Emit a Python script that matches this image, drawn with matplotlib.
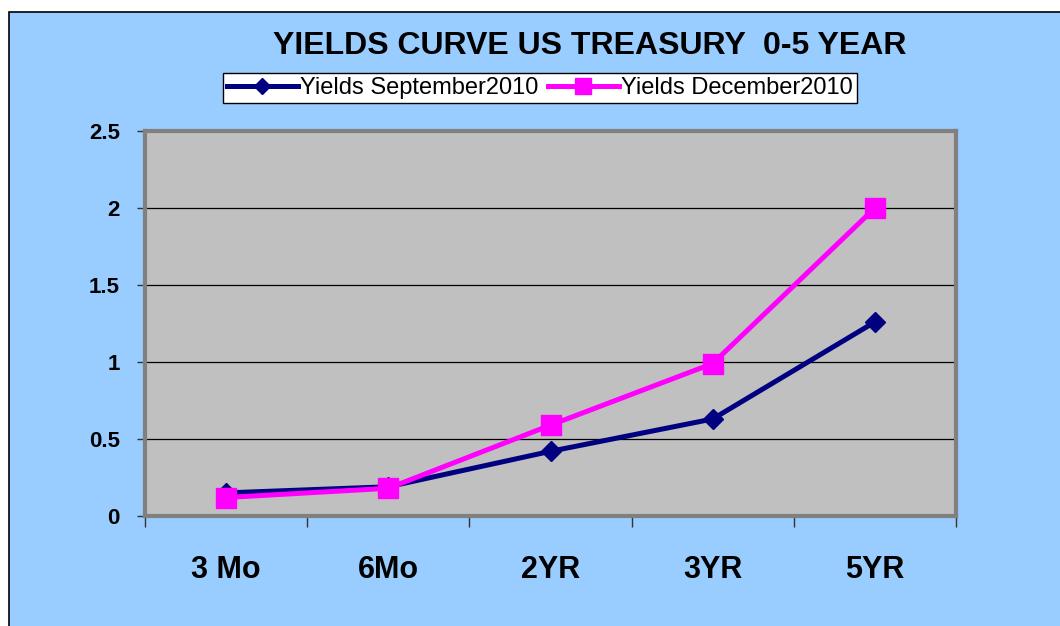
import matplotlib
matplotlib.use("Agg")
import matplotlib.pyplot as plt
from matplotlib.patches import Rectangle
import numpy as np

categories = ["3 Mo", "6Mo", "2YR", "3YR", "5YR"]
yields_sep = [0.15, 0.19, 0.42, 0.63, 1.26]
yields_dec = [0.12, 0.18, 0.59, 0.99, 2.00]
yticks = [0, 0.5, 1, 1.5, 2, 2.5]
ytick_labels = ["0", "0.5", "1", "1.5", "2", "2.5"]

plt.rcParams["font.family"] = ["Liberation Sans", "DejaVu Sans"]

W, H = 1060, 626
fig = plt.figure(figsize=(W / 100, H / 100), dpi=100, facecolor="white")

# blue chart area with black border
fig.patches.append(Rectangle((9 / W, -0.05), 1.2, 1 - 12 / H + 0.05,
                             transform=fig.transFigure, facecolor="#99CCFF",
                             edgecolor="black", lw=1.2, zorder=-10))

ax = fig.add_axes([145 / W, (H - 516) / H, 811 / W, 385 / H])
ax.set_facecolor("#C0C0C0")

x = np.arange(len(categories))
ax.plot(x, yields_sep, color="#000080", lw=3.6, marker="D", ms=10,
        label="Yields September2010", zorder=3)
ax.plot(x, yields_dec, color="#FF00FF", lw=3.6, marker="s", ms=14,
        label="Yields December2010", zorder=4)

ax.set_xlim(-0.5, len(categories) - 0.5)
ax.set_ylim(0, 2.5)
ax.set_yticks(yticks)
ax.set_yticklabels(ytick_labels, fontsize=16, fontweight="bold")
for v in yticks[1:-1]:
    ax.axhline(v, color="black", lw=0.9, zorder=1)

ax.set_xticks(np.arange(-0.5, len(categories)), minor=False)
ax.set_xticklabels([])
ax.set_xticks(x, minor=True)
ax.set_xticklabels(categories, minor=True, fontsize=22, fontweight="bold")
ax.tick_params(axis="x", which="major", direction="out", length=8, width=1, color="#333333")
ax.tick_params(axis="x", which="minor", length=0, pad=28)
ax.tick_params(axis="y", direction="out", length=6, width=1, color="#333333", pad=12)

for s in ax.spines.values():
    s.set_color("#808080")
    s.set_linewidth(3)

fig.text(590 / W, 1 - 46 / H, "YIELDS CURVE US TREASURY  0-5 YEAR",
         ha="center", va="center", fontsize=23, fontweight="bold")

leg = fig.legend(loc="center", bbox_to_anchor=(540 / W, 1 - 88 / H), ncol=2,
                 fontsize=17, frameon=True, fancybox=False, handlelength=3,
                 handletextpad=0.1, columnspacing=0.4, borderpad=0.15,
                 borderaxespad=0, markerscale=0.85)
leg.get_frame().set_edgecolor("black")
leg.get_frame().set_linewidth(1)
leg.get_frame().set_facecolor("white")
leg.get_frame().set_alpha(1)

fig.savefig("out.png", dpi=100)
